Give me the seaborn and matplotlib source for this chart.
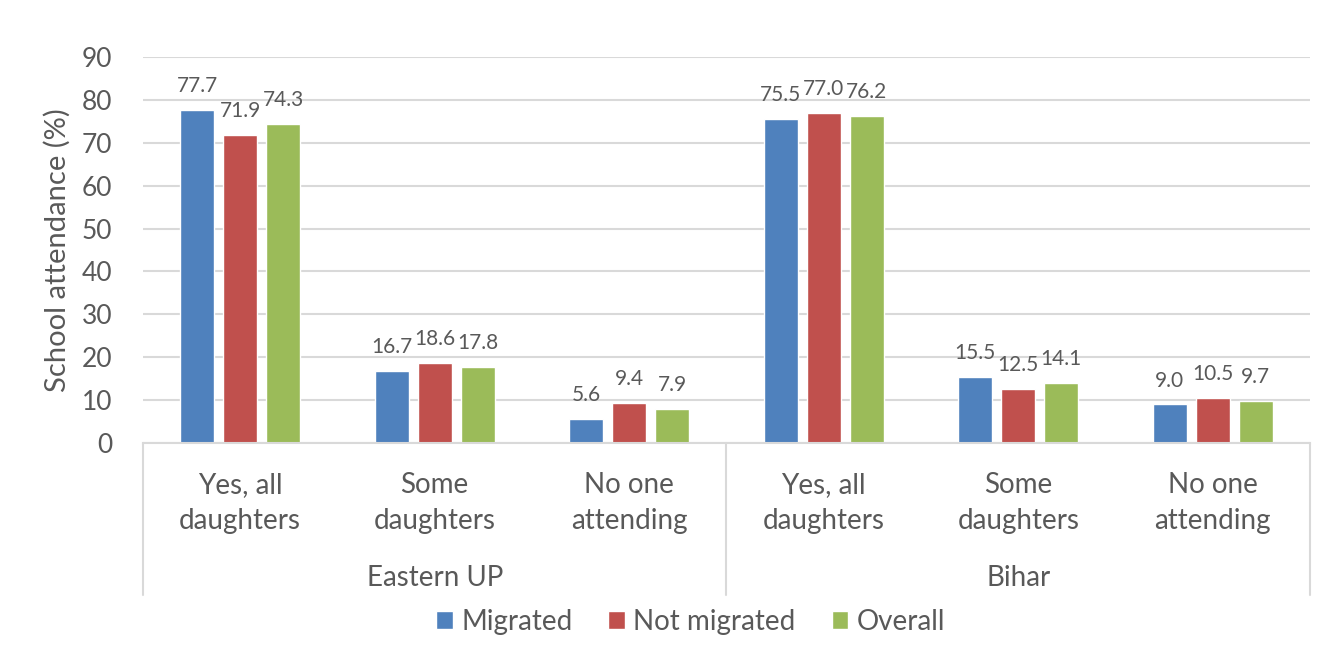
import pandas as pd
import numpy as np
import matplotlib
matplotlib.use("Agg")
import matplotlib.pyplot as plt
import matplotlib.transforms as mtransforms
import seaborn as sns

# Data
regions = ["Eastern UP", "Bihar"]
responses = ["Yes, all\ndaughters", "Some\ndaughters", "No one\nattending"]
series = ["Migrated", "Not migrated", "Overall"]

eastern_up = {
    "Migrated": [77.7, 16.7, 5.6],
    "Not migrated": [71.9, 18.6, 9.4],
    "Overall": [74.3, 17.8, 7.9],
}
bihar = {
    "Migrated": [75.5, 15.5, 9.0],
    "Not migrated": [77.0, 12.5, 10.5],
    "Overall": [76.2, 14.1, 9.7],
}

colors = ["#4F81BD", "#C0504D", "#9BBB59"]
text_color = "#595959"
grid_color = "#D9D9D9"

rows = []
for region, vals in zip(regions, [eastern_up, bihar]):
    for s in series:
        for resp, v in zip(responses, vals[s]):
            rows.append({"cat": region + "|" + resp, "series": s, "value": v})
df = pd.DataFrame(rows)
order = [r + "|" + c for r in regions for c in responses]

sns.set_theme(style="white")
plt.rcParams["font.family"] = ["Lato", "DejaVu Sans"]

fig = plt.figure(figsize=(13.41, 6.45), dpi=100)
ax = fig.add_axes([0.1066, 0.3132, 0.8703, 0.5984])

sns.barplot(data=df, x="cat", y="value", hue="series", order=order,
            hue_order=series, palette=colors, width=0.663, gap=0.21,
            saturation=1, errorbar=None, ax=ax)

for cont in ax.containers:
    ax.bar_label(cont, fmt="%.1f", padding=10, fontsize=15, color=text_color)

ax.set_ylim(0, 90)
ax.set_xlim(-0.5, 5.5)
ax.set_yticks(np.arange(0, 91, 10))
ax.yaxis.grid(True, color=grid_color, linewidth=1.5)
ax.set_axisbelow(True)
for side in ["top", "right", "left"]:
    ax.spines[side].set_visible(False)
ax.spines["bottom"].set_color(grid_color)
ax.spines["bottom"].set_linewidth(1.5)

ax.set_xticks(range(len(order)))
ax.set_xticklabels([c.split("|")[1] for c in order], fontsize=20,
                   color=text_color, linespacing=1.45)
ax.tick_params(axis="x", length=0, pad=21)
ax.tick_params(axis="y", length=0, labelsize=19, labelcolor=text_color, pad=22)
ax.set_xlabel("")
ax.set_ylabel("School attendance (%)", fontsize=21, color=text_color, labelpad=8)

# multi-level category axis: separators and region labels
trans = mtransforms.blended_transform_factory(ax.transData, ax.transAxes)
for xpos in [-0.5, 2.5, 5.5]:
    ax.plot([xpos, xpos], [0, -0.394], transform=trans, color=grid_color,
            linewidth=1.5, clip_on=False)
for i, region in enumerate(regions):
    ax.text(i * 3 + 1, -0.35, region, transform=trans, ha="center", va="center",
            fontsize=20, color=text_color)

handles, labels = ax.get_legend_handles_labels()
ax.get_legend().remove()
fig.legend(handles, labels, loc="center", bbox_to_anchor=(0.515, 0.036),
           ncol=3, frameon=False, fontsize=20, handlelength=0.6,
           handleheight=0.6, handletextpad=0.3, columnspacing=1.3,
           labelcolor=text_color)

fig.savefig("out.png", dpi=100)
